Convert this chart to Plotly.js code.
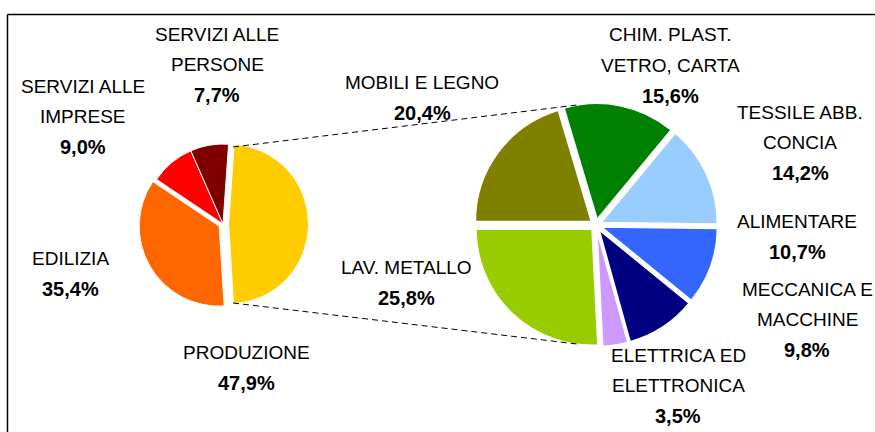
<!DOCTYPE html>
<html>
<head>
<meta charset="utf-8">
<script src="https://cdn.plot.ly/plotly-3.0.1.min.js"></script>
<style>
  html, body { margin: 0; padding: 0; background: #fff; }
  #myDiv { width: 875px; height: 432px; }
</style>
</head>
<body>
<div id="myDiv"></div>
<script>
// main pie: sectors
var mainLabels = ['PRODUZIONE', 'EDILIZIA', 'SERVIZI ALLE<br>IMPRESE', 'SERVIZI ALLE<br>PERSONE'];
var mainValues = [47.9, 35.4, 9.0, 7.7];
var mainColors = ['#FFCC00', '#FF6600', '#FF0000', '#800000'];

// secondary pie: breakdown of PRODUZIONE
var prodLabels = ['MOBILI E LEGNO', 'CHIM. PLAST.<br>VETRO, CARTA', 'TESSILE ABB.<br>CONCIA', 'ALIMENTARE',
  'MECCANICA E<br>MACCHINE', 'ELETTRICA ED<br>ELETTRONICA', 'LAV. METALLO'];
var prodValues = [20.4, 15.6, 14.2, 10.7, 9.8, 3.5, 25.8];
var prodColors = ['#808000', '#008000', '#99CCFF', '#3366FF', '#000080', '#CC99FF', '#99CC00'];

// label placement (pixels: x centre, y of first line)
var mainLabelPos = [[246, 352], [70, 258], [83, 86], [217, 34]];
var prodLabelPos = [[422, 82], [670, 35], [800, 112], [797, 222], [807, 289], [678, 355], [406, 267]];

var W = 875, H = 432, LINE = 30.5;
var FONT = 'Liberation Sans, Arial, sans-serif';
function px(x) { return x / W; }
function py(y) { return 1 - y / H; }

var left = {cx: 223, cy: 224, r: 80, pull: [0.07, 0.055, 0, 0]};
var right = {cx: 596, cy: 225, r: 116, pull: [0.05, 0.05, 0.05, 0.05, 0.05, 0.05, 0.05]};

function domainOf(p) {
  var half = p.r * (1 + Math.max.apply(null, p.pull));
  return {x: [px(p.cx - half), px(p.cx + half)], y: [py(p.cy + half), py(p.cy - half)]};
}

function pct(v) { return v.toFixed(1).replace('.', ',') + '%'; }

var data = [{
  type: 'pie',
  values: mainValues,
  labels: mainLabels,
  marker: {colors: mainColors, line: {color: '#fff', width: 1}},
  sort: false,
  direction: 'clockwise',
  rotation: 4,
  pull: left.pull,
  textinfo: 'none',
  hoverinfo: 'label+value',
  domain: domainOf(left),
  showlegend: false
}, {
  type: 'pie',
  values: prodValues,
  labels: prodLabels,
  marker: {colors: prodColors, line: {color: '#fff', width: 1.5}},
  sort: false,
  direction: 'clockwise',
  rotation: 270,
  pull: right.pull,
  textinfo: 'none',
  hoverinfo: 'label+value',
  domain: domainOf(right),
  showlegend: false
}];

var annotations = [];
function addLabels(labels, values, pos) {
  labels.forEach(function(lab, i) {
    var lines = lab.split('<br>');
    lines.push('<b>' + pct(values[i]) + '</b>');
    lines.forEach(function(t, k) {
      var isPct = k === lines.length - 1;
      annotations.push({
        x: px(pos[i][0]), y: py(pos[i][1] + k * LINE),
        xref: 'paper', yref: 'paper',
        xanchor: 'center', yanchor: 'middle',
        showarrow: false, text: t,
        font: {family: FONT, size: isPct ? 20 : 19, color: '#000'}
      });
    });
  });
}
addLabels(mainLabels, mainValues, mainLabelPos);
addLabels(prodLabels, prodValues, prodLabelPos);

// connector lines and chart frame (pixels)
var connectors = [[233, 147, 577, 105], [233, 303, 577, 344]];
var shapes = connectors.map(function(c) {
  return {type: 'line', xref: 'paper', yref: 'paper',
    x0: px(c[0]), y0: py(c[1]), x1: px(c[2]), y1: py(c[3]),
    line: {color: '#000', width: 1, dash: '6px,4px'}};
});
shapes.push({type: 'line', xref: 'paper', yref: 'paper', x0: px(7.5), y0: py(14.5), x1: 1.01, y1: py(14.5),
  line: {color: '#000', width: 1.5}});
shapes.push({type: 'line', xref: 'paper', yref: 'paper', x0: px(7.5), y0: py(14.5), x1: px(7.5), y1: -0.01,
  line: {color: '#000', width: 1.5}});

var layout = {
  width: W, height: H,
  margin: {l: 0, r: 0, t: 0, b: 0},
  paper_bgcolor: '#fff',
  showlegend: false,
  font: {family: FONT},
  annotations: annotations,
  shapes: shapes
};

Plotly.newPlot('myDiv', data, layout, {displayModeBar: false, staticPlot: true});
</script>
</body>
</html>
